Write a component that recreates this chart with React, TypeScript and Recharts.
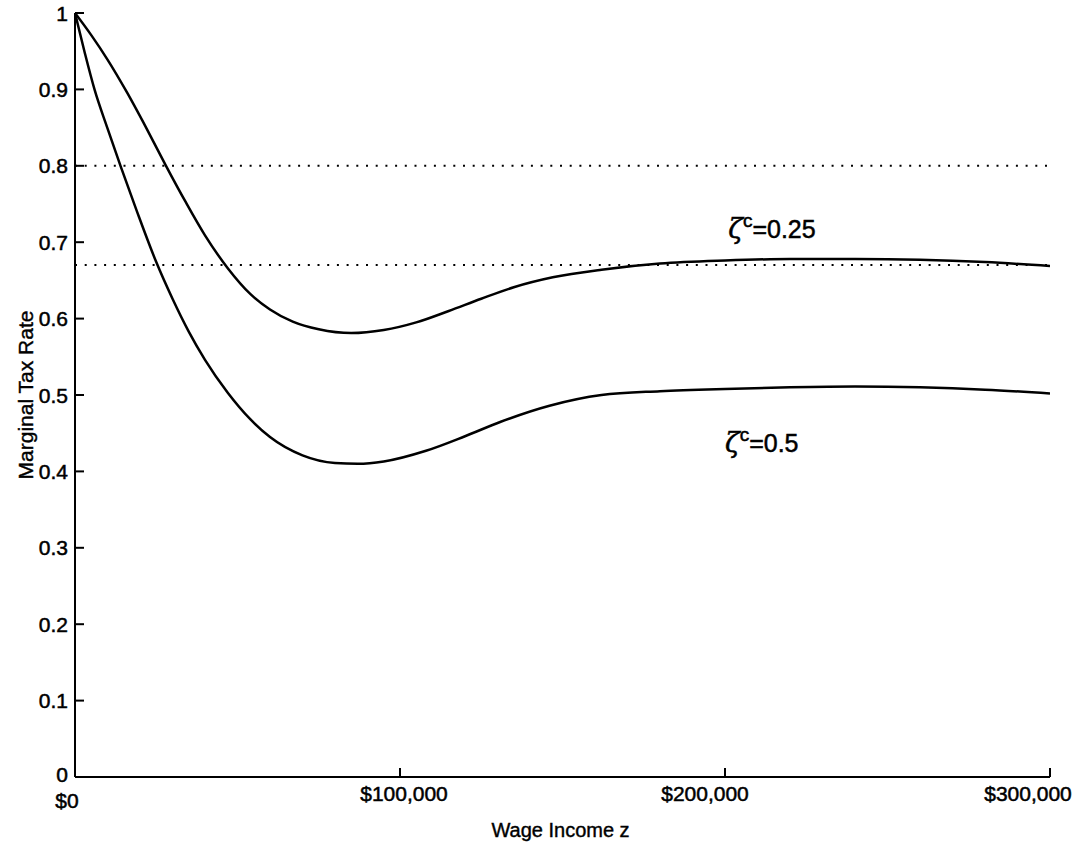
import { LineChart, Line, XAxis, YAxis, ReferenceLine, ReferenceDot } from 'recharts'

// wage income (thousand dollars) and marginal tax rate
const incomeHalf = [0, 3, 6, 10, 14, 19, 25, 30, 35, 40, 47, 54, 60, 70, 80, 87, 95, 108, 120, 131, 146, 162, 180, 200, 220, 240, 260, 280, 300]
const rateHalf = [1, 0.948, 0.9, 0.849, 0.8, 0.741, 0.674, 0.626, 0.583, 0.546, 0.503, 0.468, 0.445, 0.421, 0.411, 0.41, 0.413, 0.427, 0.446, 0.465, 0.486, 0.5, 0.505, 0.508, 0.51, 0.511, 0.51, 0.507, 0.502]

const incomeQuarter = [0, 5, 10, 16, 22, 28, 34, 40, 47, 54, 60, 67, 75, 85, 95, 105, 115, 125, 135, 147, 162, 180, 200, 220, 240, 260, 280, 300]
const rateQuarter = [1, 0.971, 0.939, 0.896, 0.849, 0.8, 0.753, 0.709, 0.666, 0.632, 0.612, 0.596, 0.586, 0.581, 0.585, 0.595, 0.61, 0.626, 0.641, 0.654, 0.664, 0.672, 0.676, 0.678, 0.678, 0.677, 0.674, 0.669]

const xTicks = [0, 100, 200, 300]
const xTickLabels = ['$0', '$100,000', '$200,000', '$300,000']
const yTicks = [0, 0.1, 0.2, 0.3, 0.4, 0.5, 0.6, 0.7, 0.8, 0.9, 1]
const yTickLabels = ['0', '0.1', '0.2', '0.3', '0.4', '0.5', '0.6', '0.7', '0.8', '0.9', '1']
const dottedLevels = [0.8, 0.67]

const seriesHalf = incomeHalf.map((x, i) => ({ x, y: rateHalf[i] }))
const seriesQuarter = incomeQuarter.map((x, i) => ({ x, y: rateQuarter[i] }))

const FONT = '"Liberation Sans", Arial, Helvetica, sans-serif'
// the scanned labels sit a little off their ticks
const xLabelShift = [-8, 4, -20, -22]
const xLabelDrop = [7, 0, 0, 0]
const ink = { fill: '#000', stroke: '#000', strokeWidth: 0.5 }

const XTick = ({ x, y, payload, index }: any) => (
  <text x={x + xLabelShift[index]} y={y + xLabelDrop[index]} dy="0.71em" textAnchor="middle" fontSize={21} fontFamily={FONT} {...ink}>
    {xTickLabels[xTicks.indexOf(payload.value)]}
  </text>
)

const YTick = ({ x, y, payload }: any) => (
  <text x={x} y={payload.value === 0 ? y - 3 : y} dy="0.36em" textAnchor="end" fontSize={21} fontFamily={FONT} {...ink}>
    {yTickLabels[yTicks.indexOf(payload.value)]}
  </text>
)

const NoTick = () => <g />

const ZetaLabel = ({ value }: { value: string }) => ({ cx, cy }: any) => (
  <text x={cx} y={cy} fontSize={25} fontFamily={FONT} {...ink}>
    <tspan fontFamily="DejaVu Serif" fontStyle="italic" fontSize={27}>ζ</tspan>
    <tspan dy={-11} fontSize={19}>c</tspan>
    <tspan dy={11}>={value}</tspan>
  </text>
)

export default function App() {
  return (
    <div style={{ position: 'absolute', left: 0, top: 0, background: '#fff' }}>
      <LineChart width={1078} height={856} margin={{ top: 13, right: 28, left: 0, bottom: 0 }}>
        <XAxis
          xAxisId="bottom"
          type="number"
          dataKey="x"
          domain={[0, 300]}
          ticks={xTicks}
          height={79}
          tickSize={-9}
          tickMargin={18}
          tick={<XTick />}
          axisLine={{ stroke: '#000', strokeWidth: 2 }}
          tickLine={{ stroke: '#000', strokeWidth: 2 }}
          allowDataOverflow
          label={({ viewBox }: any) => (
            <text x={viewBox.x + viewBox.width / 2 - 2} y={viewBox.y + 60} textAnchor="middle" fontSize={20} fontFamily={FONT} {...ink} strokeWidth={0.4}>
              Wage Income z
            </text>
          )}
        />
        <XAxis
          xAxisId="top"
          orientation="top"
          type="number"
          dataKey="x"
          domain={[0, 300]}
          ticks={xTicks}
          height={0}
          tickSize={-9}
          tick={<NoTick />}
          axisLine={{ stroke: '#000', strokeWidth: 2 }}
          tickLine={{ stroke: '#000', strokeWidth: 2 }}
        />
        <YAxis
          yAxisId="left"
          type="number"
          domain={[0, 1]}
          ticks={yTicks}
          width={75}
          tickSize={-9}
          tickMargin={16}
          tick={<YTick />}
          interval={0}
          axisLine={{ stroke: '#000', strokeWidth: 2 }}
          tickLine={{ stroke: '#000', strokeWidth: 2 }}
          label={({ viewBox }: any) => {
            const cx = viewBox.x + 25
            const cy = viewBox.y + viewBox.height / 2
            return (
              <text x={cx} y={cy} transform={`rotate(-90 ${cx} ${cy})`} dy="0.36em" textAnchor="middle" fontSize={21} fontFamily={FONT} {...ink} strokeWidth={0.4}>
                Marginal Tax Rate
              </text>
            )
          }}
        />
        <YAxis
          yAxisId="right"
          orientation="right"
          type="number"
          domain={[0, 1]}
          ticks={yTicks}
          width={0}
          tickSize={-9}
          tick={<NoTick />}
          interval={0}
          axisLine={{ stroke: '#000', strokeWidth: 2 }}
          tickLine={{ stroke: '#000', strokeWidth: 2 }}
        />
        {dottedLevels.map((level) => (
          <ReferenceLine
            key={level}
            xAxisId="bottom"
            yAxisId="left"
            y={level}
            stroke="#000"
            strokeWidth={2}
            strokeDasharray="2 7.7"
          />
        ))}
        <Line
          xAxisId="bottom"
          yAxisId="left"
          data={seriesQuarter}
          dataKey="y"
          type="monotone"
          stroke="#000"
          strokeWidth={2.5}
          dot={false}
          isAnimationActive={false}
        />
        <Line
          xAxisId="bottom"
          yAxisId="left"
          data={seriesHalf}
          dataKey="y"
          type="monotone"
          stroke="#000"
          strokeWidth={2.5}
          dot={false}
          isAnimationActive={false}
        />
        <ReferenceDot xAxisId="bottom" yAxisId="left" x={201} y={0.705} r={0} shape={ZetaLabel({ value: '0.25' })} />
        <ReferenceDot xAxisId="bottom" yAxisId="left" x={200} y={0.426} r={0} shape={ZetaLabel({ value: '0.5' })} />
      </LineChart>
    </div>
  )
}
